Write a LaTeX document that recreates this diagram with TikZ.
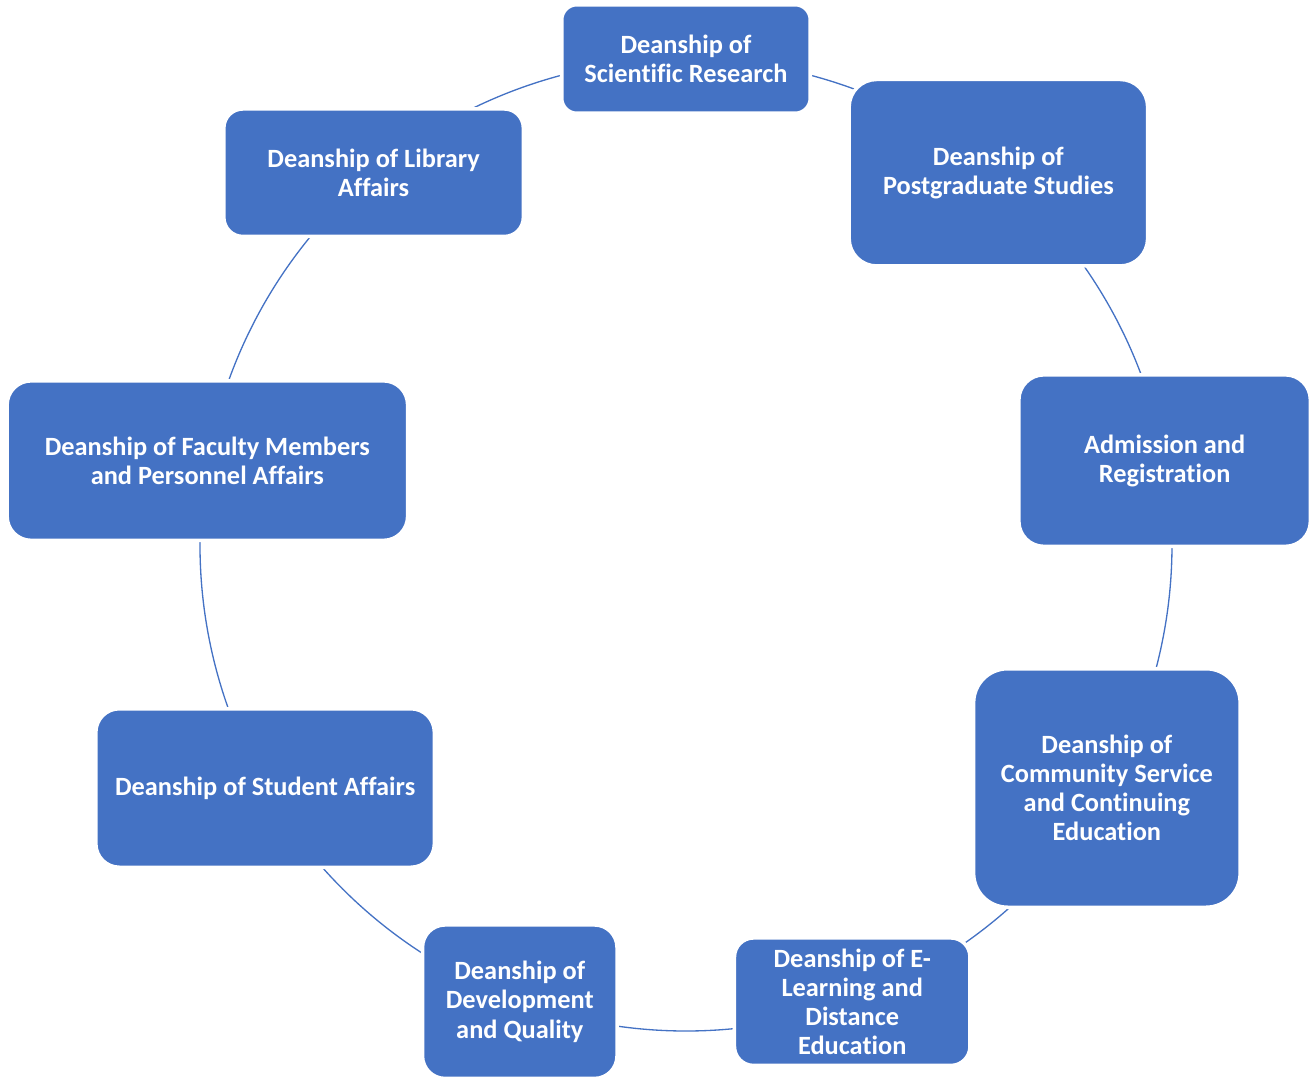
\documentclass[tikz,border=0pt]{standalone}
\usepackage{fontspec}
\setmainfont{Carlito}[Ligatures=NoCommon]
\usepackage{tikz}
\usetikzlibrary{backgrounds}

\definecolor{deanblue}{HTML}{4472C4}

\tikzset{
  dean/.style={rectangle, fill=deanblue, draw=white, line width=2pt, text=white,
    align=center, font=\bfseries\fontsize{15}{16.6}\selectfont},
  ring/.style={draw=deanblue, line width=0.75pt}
}

\begin{document}
\begin{tikzpicture}
  \useasboundingbox (-13.72,-10.62) rectangle (12.54,10.9);

  \node[dean, minimum width=4.97cm, minimum height=2.17cm, rounded corners=0.3cm] at (90:9.72) (research) {Deanship of\\Scientific Research};
  \node[dean, minimum width=5.97cm, minimum height=3.73cm, rounded corners=0.55cm] at (50:9.72) (postgrad) {Deanship of\\Postgraduate Studies};
  \node[dean, minimum width=5.83cm, minimum height=3.43cm, rounded corners=0.5cm] at (10:9.72) (admission) {Admission and\\Registration};
  \node[dean, minimum width=5.33cm, minimum height=4.77cm, rounded corners=0.68cm] at (-30:9.72) (community) {Deanship of\\Community Service\\and Continuing\\Education};
  \node[dean, minimum width=4.71cm, minimum height=2.55cm, rounded corners=0.38cm] at (-70:9.72) (elearning) {Deanship of E-\\Learning and\\Distance\\Education};
  \node[dean, minimum width=3.89cm, minimum height=3.07cm, rounded corners=0.45cm] at (-110:9.72) (quality) {Deanship of\\Development\\and Quality};
  \node[dean, minimum width=6.77cm, minimum height=3.17cm, rounded corners=0.47cm] at (-150:9.72) (student) {Deanship of Student Affairs};
  \node[dean, minimum width=8.01cm, minimum height=3.19cm, rounded corners=0.48cm] at (170:9.72) (faculty) {Deanship of Faculty Members\\and Personnel Affairs};
  \node[dean, minimum width=5.99cm, minimum height=2.55cm, rounded corners=0.38cm] at (130:9.72) (library) {Deanship of Library\\Affairs};

  % the ring runs behind the boxes
  \begin{scope}[on background layer]
    \draw[ring] (research.center) arc[start angle=90, end angle=50, radius=9.72cm];
    \draw[ring] (postgrad.center) arc[start angle=50, end angle=10, radius=9.72cm];
    \draw[ring] (admission.center) arc[start angle=10, end angle=-30, radius=9.72cm];
    \draw[ring] (community.center) arc[start angle=-30, end angle=-70, radius=9.72cm];
    \draw[ring] (elearning.center) arc[start angle=-70, end angle=-110, radius=9.72cm];
    \draw[ring] (quality.center) arc[start angle=-110, end angle=-150, radius=9.72cm];
    \draw[ring] (student.center) arc[start angle=-150, end angle=-190, radius=9.72cm];
    \draw[ring] (faculty.center) arc[start angle=170, end angle=130, radius=9.72cm];
    \draw[ring] (library.center) arc[start angle=130, end angle=90, radius=9.72cm];
  \end{scope}
\end{tikzpicture}
\end{document}
